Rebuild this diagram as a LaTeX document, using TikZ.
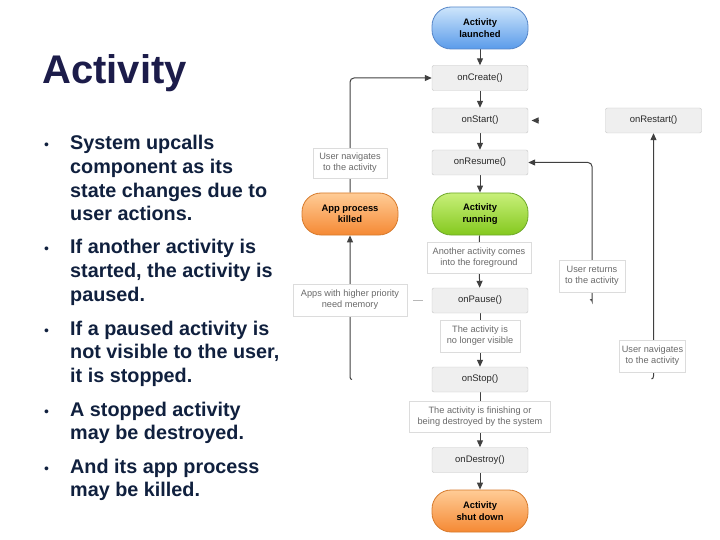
\documentclass[tikz,border=0pt]{standalone}
\usepackage{fontspec}
\setmainfont{Liberation Sans}
\usetikzlibrary{arrows.meta,backgrounds}
\definecolor{boxfill}{HTML}{EFEFEF}
\definecolor{boxborder}{HTML}{C4C4C4}
\definecolor{noteborder}{HTML}{DCDCDC}
\definecolor{notetext}{HTML}{6A6A6A}
\definecolor{boxtext}{HTML}{2A2A2A}
\definecolor{arrowcol}{HTML}{404040}
\definecolor{faintcol}{HTML}{B8B8B8}
\definecolor{bluetop}{HTML}{CDE5FB}
\definecolor{bluebot}{HTML}{5A9BEA}
\definecolor{blueborder}{HTML}{5585C8}
\definecolor{greentop}{HTML}{C8F07A}
\definecolor{greenbot}{HTML}{84C81E}
\definecolor{greenborder}{HTML}{6EA82A}
\definecolor{orangetop}{HTML}{FFCC96}
\definecolor{orangebot}{HTML}{F58934}
\definecolor{orangeborder}{HTML}{D67A2C}
\definecolor{titlecol}{HTML}{1C1C4A}
\definecolor{textcol}{HTML}{10203E}
\begin{document}
\begin{tikzpicture}[x=1pt,y=-1pt,
  box/.style={draw=boxborder, fill=boxfill, rounded corners=2pt, minimum width=96pt,
    minimum height=25pt, inner sep=1pt, text=boxtext, font=\fontsize{9.5}{11}\selectfont},
  note/.style={draw=noteborder, fill=white, align=center, inner sep=1pt, text=notetext,
    font=\fontsize{9.2}{11.2}\selectfont},
  pill/.style={rounded corners=19pt, minimum width=96pt, minimum height=42pt, align=center,
    inner sep=1pt, text=black, font=\bfseries\fontsize{9.4}{11.4}\selectfont, line width=0.8pt},
  bluepill/.style={pill, draw=blueborder, top color=bluetop, bottom color=bluebot},
  greenpill/.style={pill, draw=greenborder, top color=greentop, bottom color=greenbot},
  orangepill/.style={pill, draw=orangeborder, top color=orangetop, bottom color=orangebot},
  arr/.style={draw=arrowcol, line width=1pt, -{Triangle[length=7pt,width=6pt]}},
  plain/.style={draw=arrowcol, line width=1pt},
  faint/.style={draw=faintcol, line width=0.8pt},
  titletext/.style={inner sep=0pt, text=titlecol, font=\bfseries\fontsize{40}{44}\selectfont},
  bultext/.style={inner sep=0pt, text=textcol, font=\bfseries\fontsize{19.8}{23.6}\selectfont},
  buldot/.style={inner sep=0pt, text=textcol, font=\fontsize{14}{16}\selectfont}
]
\useasboundingbox (0,0) rectangle (720,540);

% title and bullets
\node[titletext, anchor=base west] (title) at (42,84) {Activity};
\node[buldot, anchor=base west] (d1) at (44,150) {•};
\node[bultext, anchor=base west] (t1) at (70,150) {\parbox[t]{230pt}{\raggedright System upcalls\\component as its\\state changes due to\\user actions.}};
\node[buldot, anchor=base west] (d2) at (44,254) {•};
\node[bultext, anchor=base west] (t2) at (70,254) {\parbox[t]{230pt}{\raggedright If another activity is\\started, the activity is\\paused.}};
\node[buldot, anchor=base west] (d3) at (44,335) {•};
\node[bultext, anchor=base west] (t3) at (70,335) {\parbox[t]{230pt}{\raggedright If a paused activity is\\not visible to the user,\\it is stopped.}};
\node[buldot, anchor=base west] (d4) at (44,416) {•};
\node[bultext, anchor=base west] (t4) at (70,416) {\parbox[t]{230pt}{\raggedright A stopped activity\\may be destroyed.}};
\node[buldot, anchor=base west] (d5) at (44,473) {•};
\node[bultext, anchor=base west] (t5) at (70,473) {\parbox[t]{230pt}{\raggedright And its app process\\may be killed.}};

% main states
\node[bluepill] (launched) at (480,28) {Activity\\launched};
\node[box] (create) at (480,78) {onCreate()};
\node[box] (start) at (480,120.5) {onStart()};
\node[box] (restart) at (653.5,120.5) {onRestart()};
\node[box] (resume) at (480,162.5) {onResume()};
\node[greenpill] (running) at (480,214) {Activity\\running};
\node[orangepill] (killed) at (350,214) {App process\\killed};
\node[box] (pause) at (480,300.5) {onPause()};
\node[box] (stop) at (480,379.5) {onStop()};
\node[box] (destroy) at (480,460) {onDestroy()};
\node[orangepill] (shut) at (480,511) {Activity\\shut down};

% notes
\node[note, minimum width=74pt, minimum height=30pt] (navL) at (350,163) {User navigates\\to the activity};
\node[note, minimum width=104pt, minimum height=31pt] (fore) at (479,258) {Another activity comes\\into the foreground};
\node[note, minimum width=114pt, minimum height=32pt] (prio) at (350,300) {Apps with higher priority\\need memory};
\node[note, minimum width=80pt, minimum height=32pt] (novis) at (480,336) {The activity is\\no longer visible};
\node[note, minimum width=141pt, minimum height=31pt] (finish) at (480,416.5) {The activity is finishing or\\being destroyed by the system};
\node[note, minimum width=66pt, minimum height=32pt] (ret) at (592,276) {User returns\\to the activity};
\node[note, minimum width=66pt, minimum height=32pt] (navR) at (652.5,356) {User navigates\\to the activity};

% free ends
\coordinate (lbot) at (350,377);
\coordinate (lhook) at (352,379.5);
\coordinate (rbot) at (653.5,376);
\coordinate (rhook) at (651.5,379);
\coordinate (retbot) at (592,297);
\coordinate (rethook) at (590,300);
\coordinate (rsA) at (539,120.5);
\coordinate (rsB) at (531.5,120.5);
\coordinate (pdA) at (413,300);
\coordinate (pdB) at (423,300);

\begin{pgfonlayer}{background}
\draw[arr] (launched) -- (create);
\draw[arr] (create) -- (start);
\draw[arr] (start) -- (resume);
\draw[arr] (resume) -- (running);
\draw[plain] (running) -- (fore);
\draw[arr] (fore) -- (pause);
\draw[plain] (pause) -- (novis);
\draw[arr] (novis) -- (stop);
\draw[plain] (stop) -- (finish);
\draw[arr] (finish) -- (destroy);
\draw[arr] (destroy) -- (shut);
\draw[arr] (lhook) to[out=180,in=-90] (lbot) -- (killed.south);
\draw[arr, rounded corners=4pt] (killed.north) -- (killed.north |- create.west) -- (create.west);
\draw[arr] (rhook) to[out=0,in=-90] (rbot) -- (restart.south);
\draw[arr, rounded corners=4pt] (rethook) to[out=0,in=-90] (retbot) -- (retbot |- resume.east) -- (resume.east);
\draw[arr] (rsA) -- (rsB);
\draw[faint] (pdA) -- (pdB);
\end{pgfonlayer}
\end{tikzpicture}
\end{document}
